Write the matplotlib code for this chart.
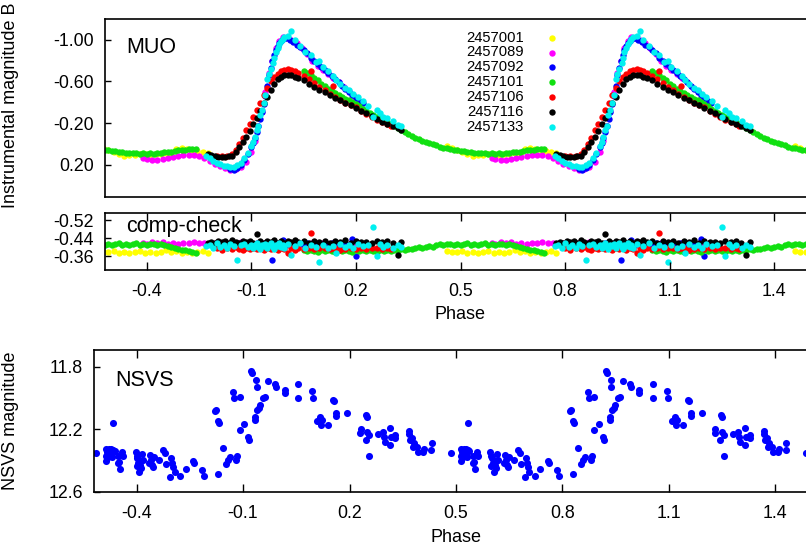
import matplotlib
matplotlib.use('Agg')
import matplotlib.pyplot as plt

plt.rcParams['font.family'] = ['Liberation Sans', 'DejaVu Sans']

# ---------------- MUO light curves, one list set per night ----------------
# phase, instrumental B magnitude, comp-check difference

ph_001 = [0.46, 0.475, 0.49, 0.505, 0.52, 0.535, 0.55, 0.565, 0.58, 0.595, 0.61,
          0.625, 0.64, 0.655, 0.67, 0.685, 0.70, 0.715, 0.73, 0.745, 0.76, 0.775]
mag_001 = [0.02, 0.035, 0.06, 0.08, 0.10, 0.115, 0.11, 0.105, 0.10, 0.10, 0.105,
           0.10, 0.095, 0.09, 0.085, 0.05, 0.04, 0.045, 0.055, 0.07, 0.08, 0.09]
cc_001 = [-0.385, -0.38, -0.378, -0.383, -0.376, -0.38, -0.374, -0.379, -0.384, -0.377, -0.381,
          -0.375, -0.38, -0.386, -0.378, -0.382, -0.376, -0.38, -0.374, -0.378, -0.383, -0.377]

ph_089 = [-0.41, -0.40, -0.385, -0.37, -0.355, -0.34, -0.325, -0.31, -0.295, -0.28,
          -0.265, -0.25, -0.235, -0.22, -0.205, -0.19, -0.175, -0.16, -0.145, -0.13,
          -0.115, -0.10, -0.09, -0.08, -0.07, -0.06, -0.05, -0.04, -0.03, -0.02,
          -0.01, 0.0, 0.015, 0.03, 0.045, 0.06, 0.075, 0.09, 0.105, 0.12,
          0.135, 0.15, 0.165, 0.18, 0.195]
mag_089 = [0.14, 0.145, 0.15, 0.15, 0.145, 0.14, 0.13, 0.12, 0.11, 0.105,
           0.105, 0.12, 0.14, 0.165, 0.19, 0.215, 0.235, 0.25, 0.245, 0.225,
           0.17, 0.08, -0.03, -0.17, -0.32, -0.50, -0.68, -0.80, -0.92, -0.99,
           -1.03, -1.02, -1.00, -0.97, -0.92, -0.86, -0.80, -0.75, -0.71, -0.67,
           -0.63, -0.59, -0.55, -0.51, -0.46]
cc_089 = [-0.42, -0.415, -0.422, -0.418, -0.425, -0.416, -0.42, -0.413, -0.421, -0.418,
          -0.424, -0.417, -0.42, -0.415, -0.421, -0.418, -0.412, -0.42, -0.416, -0.423,
          -0.418, -0.41, -0.415, -0.42, -0.417, -0.412, -0.419, -0.414, -0.42, -0.416,
          -0.41, -0.418, -0.413, -0.42, -0.415, -0.409, -0.417, -0.412, -0.42, -0.414,
          -0.418, -0.41, -0.416, -0.412, -0.419]

ph_092 = [-0.16, -0.15, -0.14, -0.13, -0.12, -0.11, -0.10,
          -0.095, -0.09, -0.085, -0.08, -0.075, -0.07, -0.065, -0.06, -0.055, -0.05,
          -0.045, -0.04, -0.035, -0.03, -0.025, -0.02, -0.015, -0.01, -0.005, 0.0,
          0.01, 0.02, 0.03, 0.04, 0.05, 0.06, 0.07, 0.08, 0.09, 0.10, 0.11,
          0.12, 0.13, 0.14, 0.15, 0.16, 0.17, 0.18, 0.19, 0.20, 0.21, 0.22]
mag_092 = [0.245, 0.25, 0.235, 0.205, 0.15, 0.10, 0.03,
           -0.01, -0.06, -0.11, -0.17, -0.24, -0.31, -0.38, -0.46, -0.56, -0.66,
           -0.73, -0.80, -0.85, -0.90, -0.94, -0.97, -0.99, -1.01, -1.02, -1.02,
           -1.00, -0.98, -0.95, -0.93, -0.90, -0.87, -0.83, -0.80, -0.77, -0.74, -0.71,
           -0.68, -0.65, -0.62, -0.59, -0.56, -0.53, -0.50, -0.47, -0.44, -0.41, -0.39]
cc_092 = [-0.41, -0.415, -0.405, -0.42, -0.412, -0.418, -0.41,
          -0.415, -0.408, -0.42, -0.413, -0.417, -0.41, -0.415, -0.42, -0.41, -0.416,
          -0.412, -0.345, -0.418, -0.41, -0.415, -0.42, -0.412, -0.433, -0.415, -0.41,
          -0.418, -0.412, -0.42, -0.414, -0.41, -0.418, -0.413, -0.42, -0.41, -0.415, -0.418,
          -0.412, -0.42, -0.41, -0.416, -0.412, -0.418, -0.41, -0.436, -0.362, -0.415, -0.41]

ph_101 = [0.05, 0.06, 0.07, 0.08, 0.09, 0.10, 0.11, 0.12, 0.13, 0.14,
          0.15, 0.16, 0.17, 0.18, 0.19, 0.20, 0.21, 0.22, 0.23, 0.24,
          0.25, 0.26, 0.27, 0.28, 0.29, 0.30, 0.31, 0.32, 0.33, 0.34,
          0.35, 0.36, 0.37, 0.38, 0.39, 0.40, 0.41, 0.42, 0.43, 0.44,
          0.45, 0.46, 0.47, 0.48, 0.49, 0.50, 0.51, 0.52, 0.53, 0.54,
          0.55, 0.56, 0.57, 0.58, 0.59, 0.60, 0.61, 0.62, 0.63, 0.64,
          0.65, 0.66, 0.67, 0.68, 0.69, 0.70, 0.71, 0.72, 0.73, 0.74]
mag_101 = [-0.70, -0.68, -0.66, -0.63, -0.61, -0.58, -0.56, -0.53, -0.51, -0.49,
           -0.47, -0.45, -0.43, -0.42, -0.40, -0.38, -0.36, -0.34, -0.32, -0.30,
           -0.28, -0.26, -0.245, -0.23, -0.21, -0.19, -0.17, -0.15, -0.13, -0.11,
           -0.095, -0.08, -0.06, -0.045, -0.03, -0.015, -0.005, 0.005, 0.015, 0.025,
           0.035, 0.04, 0.05, 0.055, 0.06, 0.065, 0.07, 0.075, 0.08, 0.085,
           0.085, 0.09, 0.09, 0.095, 0.09, 0.095, 0.09, 0.095, 0.09, 0.085,
           0.08, 0.08, 0.075, 0.065, 0.06, 0.055, 0.055, 0.05, 0.045, 0.045]
cc_101 = [-0.386, -0.382, -0.388, -0.384, -0.38, -0.387, -0.383, -0.389, -0.385, -0.381,
          -0.386, -0.383, -0.388, -0.384, -0.38, -0.386, -0.382, -0.387, -0.384, -0.389,
          -0.385, -0.381, -0.386, -0.383, -0.388, -0.385, -0.39, -0.387, -0.392, -0.389,
          -0.394, -0.391, -0.398, -0.401, -0.397, -0.403, -0.405, -0.402, -0.41, -0.414,
          -0.409, -0.413, -0.416, -0.411, -0.415, -0.41, -0.414, -0.418, -0.412, -0.416,
          -0.41, -0.413, -0.417, -0.411, -0.415, -0.409, -0.413, -0.416, -0.41, -0.414,
          -0.411, -0.407, -0.403, -0.398, -0.394, -0.39, -0.386, -0.382, -0.378, -0.376]

ph_106 = [-0.20, -0.185, -0.17, -0.155, -0.145, -0.135, -0.125, -0.115, -0.105, -0.095,
          -0.085, -0.075, -0.065, -0.055, -0.045, -0.035, -0.025, -0.015, -0.005,
          0.005, 0.015, 0.025, 0.035,
          0.05, 0.065, 0.08, 0.095, 0.11, 0.125, 0.14, 0.155, 0.17, 0.185, 0.20,
          0.215, 0.23, 0.245, 0.26, 0.275, 0.29, 0.30, 0.07, 0.133]
mag_106 = [0.12, 0.12, 0.115, 0.10, 0.06, 0.0, -0.06, -0.13, -0.19, -0.26,
           -0.33, -0.39, -0.47, -0.54, -0.60, -0.64, -0.67, -0.70, -0.71,
           -0.715, -0.71, -0.70, -0.68,
           -0.65, -0.62, -0.585, -0.55, -0.515, -0.48, -0.45, -0.42, -0.39, -0.37, -0.35,
           -0.32, -0.29, -0.26, -0.23, -0.21, -0.19, -0.175, -0.70, -0.56]
cc_106 = [-0.395, -0.39, -0.398, -0.392, -0.4, -0.394, -0.388, -0.397, -0.391, -0.399,
          -0.393, -0.396, -0.39, -0.398, -0.392, -0.395, -0.389, -0.397, -0.393,
          -0.374, -0.396, -0.39, -0.398,
          -0.393, -0.397, -0.391, -0.395, -0.399, -0.392, -0.396, -0.39, -0.394, -0.398, -0.392,
          -0.396, -0.391, -0.395, -0.399, -0.393, -0.397, -0.392, -0.462, -0.395]

ph_116 = [-0.225, -0.215, -0.205, -0.195, -0.185, -0.175, -0.165, -0.155, -0.145, -0.135,
          -0.125, -0.115, -0.105, -0.095, -0.085, -0.075, -0.065, -0.055, -0.045, -0.035,
          -0.025, -0.015, -0.005, 0.005, 0.015, 0.025, 0.035,
          0.05, 0.065, 0.08, 0.095, 0.11, 0.125, 0.14, 0.155, 0.17, 0.185,
          0.20, 0.215, 0.23, 0.245, 0.26, 0.275, 0.29, 0.305, 0.32, 0.33]
mag_116 = [0.10, 0.11, 0.12, 0.125, 0.125, 0.125, 0.12, 0.115, 0.08, 0.03,
           -0.02, -0.07, -0.12, -0.19, -0.25, -0.32, -0.39, -0.45, -0.52, -0.58,
           -0.62, -0.645, -0.66, -0.665, -0.66, -0.645, -0.63,
           -0.61, -0.575, -0.545, -0.52, -0.495, -0.47, -0.445, -0.42, -0.395, -0.37,
           -0.345, -0.32, -0.295, -0.265, -0.24, -0.215, -0.19, -0.17, -0.15, -0.135]
cc_116 = [-0.42, -0.425, -0.418, -0.428, -0.422, -0.426, -0.42, -0.43, -0.424, -0.419,
          -0.427, -0.422, -0.429, -0.421, -0.458, -0.426, -0.42, -0.428, -0.423, -0.43,
          -0.421, -0.426, -0.419, -0.428, -0.424, -0.43, -0.422,
          -0.427, -0.42, -0.429, -0.423, -0.426, -0.419, -0.428, -0.424, -0.43, -0.421,
          -0.427, -0.423, -0.425, -0.419, -0.428, -0.422, -0.426, -0.42, -0.366, -0.424]

ph_133 = [-0.23, -0.22, -0.21, -0.20, -0.19, -0.18, -0.17, -0.16, -0.15, -0.14,
          -0.13, -0.12, -0.11, -0.10, -0.095, -0.09, -0.085, -0.08, -0.076, -0.07,
          -0.065, -0.06, -0.055, -0.05, -0.045, -0.038, -0.035, -0.03, -0.025, -0.02,
          -0.015, -0.01, -0.005, 0.005, 0.015, 0.025, 0.04, 0.055, 0.07, 0.085,
          0.094, 0.105, 0.12, 0.135, 0.144, 0.155, 0.17, 0.18, 0.192, 0.205,
          0.221, 0.235, 0.249, 0.26, 0.27, 0.278, 0.29, 0.307, 0.32, 0.33]
mag_133 = [0.12, 0.14, 0.16, 0.18, 0.195, 0.21, 0.215, 0.22, 0.22, 0.205,
           0.18, 0.14, 0.09, 0.02, -0.02, -0.07, -0.13, -0.17, -0.28, -0.33,
           -0.39, -0.47, -0.62, -0.67, -0.72, -0.78, -0.83, -0.88, -0.92, -0.96,
           -0.99, -1.01, -1.03, -1.04, -1.08, -1.00, -0.94, -0.88, -0.85, -0.79,
           -0.80, -0.74, -0.70, -0.65, -0.61, -0.58, -0.54, -0.52, -0.48, -0.45,
           -0.41, -0.36, -0.26, -0.33, -0.30, -0.26, -0.25, -0.22, -0.18, -0.17]
cc_133 = [-0.405, -0.412, -0.398, -0.418, -0.402, -0.41, -0.395, -0.415, -0.404, -0.345,
          -0.408, -0.416, -0.4, -0.412, -0.397, -0.41, -0.418, -0.403, -0.392, -0.411,
          -0.406, -0.415, -0.399, -0.41, -0.417, -0.402, -0.394, -0.412, -0.407, -0.418,
          -0.4, -0.41, -0.396, -0.414, -0.366, -0.405, -0.417, -0.399, -0.411, -0.403,
          -0.337, -0.412, -0.398, -0.407, -0.377, -0.414, -0.401, -0.41, -0.395, -0.416,
          -0.404, -0.409, -0.491, -0.362, -0.413, -0.4, -0.408, -0.396, -0.411, -0.403]

nights = ['2457001', '2457089', '2457092', '2457101', '2457106', '2457116', '2457133']
night_colors = ['#ffff00', '#ff00ff', '#0000ff', '#11e011', '#ff0000', '#000000', '#00f0f0']
night_phase = [ph_001, ph_089, ph_092, ph_101, ph_106, ph_116, ph_133]
night_mag = [mag_001, mag_089, mag_092, mag_101, mag_106, mag_116, mag_133]
night_cc = [cc_001, cc_089, cc_092, cc_101, cc_106, cc_116, cc_133]

# ---------------- NSVS photometry (one cycle) ----------------
nsvs_phase = [-0.466, -0.485, -0.478, -0.471, -0.466, -0.483, -0.475, -0.486, -0.481, -0.487,
              -0.469, -0.462, -0.473, -0.453, -0.450, -0.447, -0.440, -0.438, -0.453, -0.403,
              -0.400, -0.398, -0.393, -0.389, -0.400, -0.384, -0.381, -0.393, -0.387, -0.396,
              -0.362, -0.359, -0.356, -0.353, -0.351, -0.365, -0.337, -0.325, -0.321, -0.318,
              -0.302, -0.299, -0.297, -0.306, -0.293, -0.278, -0.262, -0.240, -0.238, -0.215,
              -0.210, -0.170, -0.157, -0.149, -0.143, -0.137, -0.121, -0.118, -0.179, -0.176,
              -0.171, -0.168, -0.127, -0.126, -0.110, -0.110, -0.096, -0.086, -0.084, -0.066,
              -0.065, -0.060, -0.054, -0.051, -0.043, -0.039, -0.077, -0.074, -0.064, -0.062,
              -0.030, -0.011, -0.008, 0.017, 0.017, 0.054, 0.055, 0.095, 0.097, 0.154,
              0.156, 0.162, 0.162, 0.193, 0.109, 0.118, 0.123, 0.120, 0.139, 0.246,
              0.250, 0.231, 0.229, 0.250, 0.254, 0.245, 0.254, 0.280, 0.295, 0.297,
              0.299, 0.314, 0.316, 0.313, 0.327, 0.327, 0.367, 0.368, 0.370, 0.376,
              0.383, 0.379, 0.391, 0.393, 0.408, 0.411, 0.431, 0.430, 0.485]
nsvs_mag = [12.160, 12.329, 12.325, 12.327, 12.333, 12.344, 12.355, 12.372, 12.380, 12.401,
            12.376, 12.338, 12.365, 12.372, 12.408, 12.456, 12.344, 12.372, 12.414, 12.344,
            12.372, 12.386, 12.408, 12.429, 12.435, 12.359, 12.397, 12.477, 12.450, 12.418,
            12.365, 12.397, 12.429, 12.444, 12.376, 12.418, 12.397, 12.333, 12.350, 12.422,
            12.386, 12.418, 12.439, 12.503, 12.471, 12.499, 12.452, 12.403, 12.418, 12.460,
            12.499, 12.486, 12.319, 12.422, 12.397, 12.380, 12.397, 12.372, 12.084, 12.075,
            12.147, 12.160, 11.963, 12.001, 11.995, 12.202, 12.168, 12.253, 12.266, 12.122,
            12.139, 12.075, 12.067, 12.046, 12.001, 11.995, 11.825, 11.842, 11.885, 11.927,
            11.893, 11.910, 11.931, 11.948, 11.969, 11.908, 11.999, 11.957, 11.999, 12.012,
            12.022, 12.096, 12.118, 12.094, 12.149, 12.122, 12.139, 12.175, 12.173, 12.109,
            12.124, 12.198, 12.226, 12.221, 12.236, 12.272, 12.372, 12.232, 12.221, 12.251,
            12.281, 12.194, 12.251, 12.300, 12.238, 12.259, 12.211, 12.232, 12.270, 12.259,
            12.287, 12.317, 12.312, 12.344, 12.344, 12.329, 12.287, 12.334, 12.355]

phase_ticks = [-0.4, -0.1, 0.2, 0.5, 0.8, 1.1, 1.4]
phase_labels = ['-0.4', '-0.1', '0.2', '0.5', '0.8', '1.1', '1.4']
muo_ticks = [-1.0, -0.6, -0.2, 0.2]
muo_labels = ['-1.00', '-0.60', '-0.20', '0.20']
cc_ticks = [-0.52, -0.44, -0.36]
cc_labels = ['-0.52', '-0.44', '-0.36']
nsvs_ticks = [11.8, 12.2, 12.6]
nsvs_labels = ['11.8', '12.2', '12.6']


def fold(phases, values):
    # repeat one cycle so that the plot covers phase -0.52 .. 1.52
    xs, ys = [], []
    for k in (-1, 0, 1):
        for p, v in zip(phases, values):
            xs.append(p + k)
            ys.append(v)
    return xs, ys


W, H = 806, 554
fig = plt.figure(figsize=(W / 100, H / 100), dpi=100)
ax_muo = fig.add_axes([105 / W, 1 - 197 / H, 711 / W, 178 / H])
ax_cc = fig.add_axes([105 / W, 1 - 270 / H, 711 / W, 57 / H])
ax_ns = fig.add_axes([94 / W, 1 - 492 / H, 724 / W, 142 / H])

tick_fs = 12.8
for ax in (ax_muo, ax_cc, ax_ns):
    ax.set_xlim(-0.52, 1.52)
    for sp in ax.spines.values():
        sp.set_linewidth(1.2)
    ax.tick_params(axis='y', direction='in', length=4, width=1, pad=8,
                   labelsize=tick_fs, right=False)
    ax.tick_params(axis='x', direction='in', length=6, width=1, pad=9,
                   labelsize=tick_fs, top=True, bottom=True)
    ax.set_xticks(phase_ticks)
    ax.set_xticklabels(phase_labels)

# MUO panel
for name, col, ph, mg in zip(nights, night_colors, night_phase, night_mag):
    xs, ys = fold(ph, mg)
    ax_muo.scatter(xs, ys, s=21, color=col, linewidths=0, label=name)
ax_muo.set_ylim(0.51, -1.2)
ax_muo.set_yticks(muo_ticks)
ax_muo.set_yticklabels(muo_labels)
ax_muo.tick_params(axis='x', top=False, bottom=False, labelbottom=False)
ax_muo.text(0.0295, 0.811, 'MUO', transform=ax_muo.transAxes, fontsize=15.5, va='baseline')
ax_muo.set_ylabel('Instrumental magnitude B', fontsize=13)
ax_muo.yaxis.set_label_coords(-0.121, 0.514)
ax_muo.legend(loc='upper left', bbox_to_anchor=(0.508, 0.935), frameon=False,
              markerfirst=False, fontsize=10.6, labelspacing=0.06, handlelength=1.0,
              handletextpad=1.4, borderpad=0, borderaxespad=0, scatterpoints=1)

# comp-check panel
for col, ph, cc in zip(night_colors, night_phase, night_cc):
    xs, ys = fold(ph, cc)
    ax_cc.scatter(xs, ys, s=21, color=col, linewidths=0)
ax_cc.set_ylim(-0.30, -0.551)
ax_cc.set_yticks(cc_ticks)
ax_cc.set_yticklabels(cc_labels)
ax_cc.text(0.0295, 0.675, 'comp-check', transform=ax_cc.transAxes, fontsize=15.5, va='baseline')
ax_cc.set_xlabel('Phase', fontsize=13)
ax_cc.xaxis.set_label_coords(0.5, -0.63)

# NSVS panel
xs, ys = fold(nsvs_phase, nsvs_mag)
ax_ns.scatter(xs, ys, s=26, color='#0000ff', linewidths=0)
ax_ns.set_ylim(12.602, 11.693)
ax_ns.set_yticks(nsvs_ticks)
ax_ns.set_yticklabels(nsvs_labels)
ax_ns.text(0.029, 0.749, 'NSVS', transform=ax_ns.transAxes, fontsize=15.5, va='baseline')
ax_ns.set_xlabel('Phase', fontsize=13)
ax_ns.xaxis.set_label_coords(0.5, -0.26)
ax_ns.set_ylabel('NSVS magnitude', fontsize=13)
ax_ns.yaxis.set_label_coords(-0.1036, 0.5)

fig.savefig('out.png', dpi=100)
